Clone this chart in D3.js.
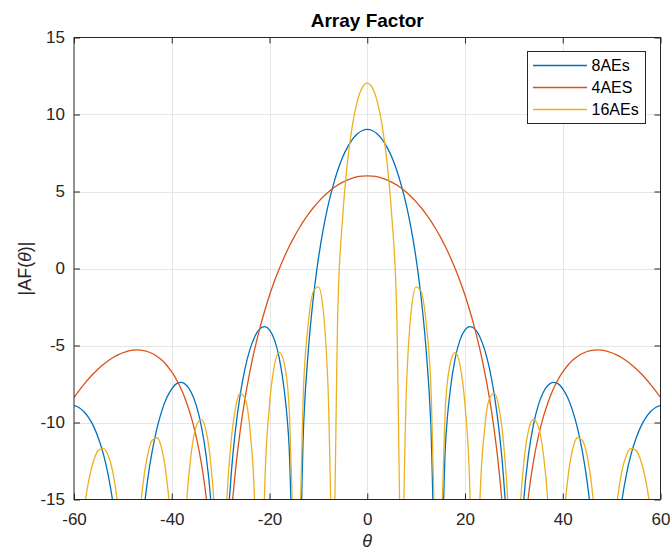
<!DOCTYPE html>
<html>
<head>
<meta charset="utf-8">
<script src="https://cdn.jsdelivr.net/npm/d3@7"></script>
<style>
  body { margin: 0; background: #fff; }
  svg text { font-family: "Liberation Sans", Arial, sans-serif; fill: #262626; }
</style>
</head>
<body>
<div id="chart"></div>
<script>
// angle in degrees
var theta = [-60,-59,-58,-57,-56,-55,-54,-53,-52,-51,-50,-49,-48,-47,-46,-45,-44,-43,-42,-41,
  -40,-39,-38,-37,-36,-35,-34,-33,-32,-31,-30,-29,-28,-27,-26,-25,-24,-23,-22,-21,
  -20,-19,-18,-17,-16,-15,-14,-13,-12,-11,-10,-9,-8,-7,-6,-5,-4,-3,-2,-1,
  0,1,2,3,4,5,6,7,8,9,10,11,12,13,14,15,16,17,18,19,
  20,21,22,23,24,25,26,27,28,29,30,31,32,33,34,35,36,37,38,39,
  40,41,42,43,44,45,46,47,48,49,50,51,52,53,54,55,56,57,58,59,60];

// |AF| in dB, -60 marks a null (goes off the bottom)
var af8 = [-8.89,-9.03,-9.29,-9.69,-10.25,-11.02,-12.04,-13.41,-15.29,-18.00,
  -22.40,-32.93,-29.61,-20.92,-16.66,-13.87,-11.86,-10.35,-9.21,-8.38,
  -7.81,-7.48,-7.40,-7.58,-8.05,-8.87,-10.15,-12.07,-15.11,-20.75,
  -60,-20.25,-14.09,-10.59,-8.20,-6.48,-5.25,-4.41,-3.92,-3.77,
  -3.98,-4.62,-5.82,-7.86,-11.48,-20.10,-20.30,-10.00,-5.10,-1.82,
  0.63,2.55,4.11,5.37,6.41,7.25,7.90,8.40,8.75,8.96,
  9.03,
  8.96,8.75,8.40,7.90,7.25,6.41,5.37,4.11,2.55,0.63,
  -1.82,-5.10,-10.00,-20.30,-20.10,-11.48,-7.86,-5.82,-4.62,-3.98,
  -3.77,-3.92,-4.41,-5.25,-6.48,-8.20,-10.59,-14.09,-20.25,-60,
  -20.75,-15.11,-12.07,-10.15,-8.87,-8.05,-7.58,-7.40,-7.48,-7.81,
  -8.38,-9.21,-10.35,-11.86,-13.87,-16.66,-20.92,-29.61,-32.93,-22.40,
  -18.00,-15.29,-13.41,-12.04,-11.02,-10.25,-9.69,-9.29,-9.03,-8.89];

var af4 = [-8.37,-7.94,-7.54,-7.16,-6.82,-6.51,-6.24,-5.99,-5.78,-5.61,
  -5.47,-5.36,-5.30,-5.28,-5.31,-5.39,-5.52,-5.71,-5.96,-6.30,
  -6.72,-7.24,-7.88,-8.68,-9.67,-10.92,-12.54,-14.74,-17.97,-23.72,
  -60,-23.22,-16.94,-13.24,-10.54,-8.42,-6.68,-5.19,-3.90,-2.76,
  -1.74,-0.83,-0.01,0.73,1.41,2.02,2.58,3.09,3.55,3.96,
  4.33,4.66,4.95,5.21,5.43,5.61,5.76,5.87,5.96,6.00,
  6.02,
  6.00,5.96,5.87,5.76,5.61,5.43,5.21,4.95,4.66,4.33,
  3.96,3.55,3.09,2.58,2.02,1.41,0.73,-0.01,-0.83,-1.74,
  -2.76,-3.90,-5.19,-6.68,-8.42,-10.54,-13.24,-16.94,-23.22,-60,
  -23.72,-17.97,-14.74,-12.54,-10.92,-9.67,-8.68,-7.88,-7.24,-6.72,
  -6.30,-5.96,-5.71,-5.52,-5.39,-5.31,-5.28,-5.30,-5.36,-5.47,
  -5.61,-5.78,-5.99,-6.24,-6.51,-6.82,-7.16,-7.54,-7.94,-8.37];

var af16 = [-24.86,-19.09,-15.85,-13.79,-12.50,-11.81,-11.68,-12.14,-13.31,-15.51,
  -19.57,-29.94,-26.63,-18.15,-14.31,-12.19,-11.15,-10.99,-11.77,-13.76,
  -17.88,-29.78,-23.02,-15.41,-11.97,-10.27,-9.80,-10.51,-12.73,-17.89,
  -60,-17.40,-11.74,-9.13,-8.11,-8.46,-10.46,-15.54,-47.03,-14.42,
  -8.87,-6.31,-5.45,-6.14,-8.93,-17.14,-17.34,-7.43,-3.36,-1.48,
  -1.19,-2.73,-7.92,-19.72,-2.47,3.47,7.04,9.38,10.90,11.76,
  12.04,
  11.76,10.90,9.38,7.04,3.47,-2.47,-19.72,-7.92,-2.73,-1.19,
  -1.48,-3.36,-7.43,-17.34,-17.14,-8.93,-6.14,-5.45,-6.31,-8.87,
  -14.42,-47.03,-15.54,-10.46,-8.46,-8.11,-9.13,-11.74,-17.40,-60,
  -17.89,-12.73,-10.51,-9.80,-10.27,-11.97,-15.41,-23.02,-29.78,-17.88,
  -13.76,-11.77,-10.99,-11.15,-12.19,-14.31,-18.15,-26.63,-29.94,-19.57,
  -15.51,-13.31,-12.14,-11.68,-11.81,-12.50,-13.79,-15.85,-19.09,-24.86];

var seriesNames = ["8AEs", "4AES", "16AEs"];
var seriesColors = ["#0072BD", "#D95319", "#EDB120"];
var xTicks = [-60, -40, -20, 0, 20, 40, 60];
var yTicks = [-15, -10, -5, 0, 5, 10, 15];

var width = 670, height = 552;
var plotL = 74, plotR = 660.5, plotT = 37.5, plotB = 499.5;

var svg = d3.select("#chart").append("svg")
  .attr("width", width)
  .attr("height", height);

var xScale = d3.scaleLinear().domain([-60, 60]).range([plotL, plotR]);
var yScale = d3.scaleLinear().domain([-15, 15]).range([plotB, plotT]);

// grid
svg.append("g").selectAll("line")
  .data(xTicks.slice(1, -1))
  .enter().append("line")
    .attr("x1", function(d) { return Math.round(xScale(d)) + 0.5; })
    .attr("x2", function(d) { return Math.round(xScale(d)) + 0.5; })
    .attr("y1", plotT).attr("y2", plotB)
    .style("stroke", "#e6e6e6");
svg.append("g").selectAll("line")
  .data(yTicks.slice(1, -1))
  .enter().append("line")
    .attr("y1", function(d) { return Math.round(yScale(d)) + 0.5; })
    .attr("y2", function(d) { return Math.round(yScale(d)) + 0.5; })
    .attr("x1", plotL).attr("x2", plotR)
    .style("stroke", "#e6e6e6");

svg.append("defs").append("clipPath").attr("id", "plotClip")
  .append("rect")
    .attr("x", plotL).attr("y", plotT)
    .attr("width", plotR - plotL).attr("height", plotB - plotT);

var line = d3.line()
  .x(function(d) { return xScale(d[0]); })
  .y(function(d) { return yScale(d[1]); })
  .curve(d3.curveMonotoneX);

var series = [af8, af4, af16];
svg.append("g").attr("clip-path", "url(#plotClip)")
  .selectAll("path")
  .data(series)
  .enter().append("path")
    .attr("d", function(d) { return line(d3.zip(theta, d)); })
    .style("fill", "none")
    .style("stroke", function(d, i) { return seriesColors[i]; })
    .style("stroke-width", 1.3);

// axes, ticks pointing inward like matlab
var plain = function(d) { return String(d); };
svg.append("g")
  .attr("transform", "translate(0," + plotB + ")")
  .call(d3.axisBottom(xScale).tickValues(xTicks).tickSize(-6).tickPadding(13).tickFormat(plain));
svg.append("g")
  .attr("transform", "translate(" + plotL + ",0)")
  .call(d3.axisLeft(yScale).tickValues(yTicks).tickSize(-6).tickPadding(9).tickFormat(plain));
svg.append("g")
  .attr("transform", "translate(0," + plotT + ")")
  .call(d3.axisTop(xScale).tickValues(xTicks).tickSize(-6).tickFormat(""));
svg.append("g")
  .attr("transform", "translate(" + plotR + ",0)")
  .call(d3.axisRight(yScale).tickValues(yTicks).tickSize(-6).tickFormat(""));

svg.selectAll(".domain").remove();
svg.selectAll(".tick line").style("stroke", "#262626");
svg.selectAll(".tick text")
  .style("font-size", "17px")
  .style("font-family", "'Liberation Sans', Arial, sans-serif")
  .style("fill", "#262626");

svg.append("rect")
  .attr("x", plotL).attr("y", plotT)
  .attr("width", plotR - plotL).attr("height", plotB - plotT)
  .style("fill", "none")
  .style("stroke", "#262626")
  .style("stroke-width", 1);

svg.append("text")
  .attr("x", (plotL + plotR) / 2)
  .attr("y", 26.5)
  .attr("text-anchor", "middle")
  .style("font-size", "19px")
  .style("font-weight", "bold")
  .style("fill", "#000")
  .text("Array Factor");

svg.append("text")
  .attr("x", (plotL + plotR) / 2)
  .attr("y", 547)
  .attr("text-anchor", "middle")
  .style("font-size", "18px")
  .style("font-style", "italic")
  .text("\u03B8");

var yLabel = svg.append("text")
  .attr("transform", "translate(31," + ((plotT + plotB) / 2) + ") rotate(-90)")
  .attr("text-anchor", "middle")
  .style("font-size", "18px");
yLabel.append("tspan").text("|AF(");
yLabel.append("tspan").style("font-style", "italic").text("\u03B8");
yLabel.append("tspan").text(")|");

// legend
var legend = svg.append("g");
legend.append("rect")
  .attr("x", 527.5).attr("y", 51.5)
  .attr("width", 118).attr("height", 72)
  .style("fill", "#fff")
  .style("stroke", "#262626")
  .style("stroke-width", 1);

var rows = legend.selectAll(".row")
  .data(seriesNames)
  .enter().append("g")
    .attr("class", "row")
    .attr("transform", function(d, i) { return "translate(0," + (65.5 + i * 22) + ")"; });
rows.append("line")
  .attr("x1", 533).attr("x2", 587)
  .style("stroke", function(d, i) { return seriesColors[i]; })
  .style("stroke-width", 1.3);
rows.append("text")
  .attr("x", 591.5)
  .attr("dy", "0.35em")
  .style("font-size", "16px")
  .style("fill", "#000")
  .text(function(d) { return d; });
</script>
</body>
</html>
